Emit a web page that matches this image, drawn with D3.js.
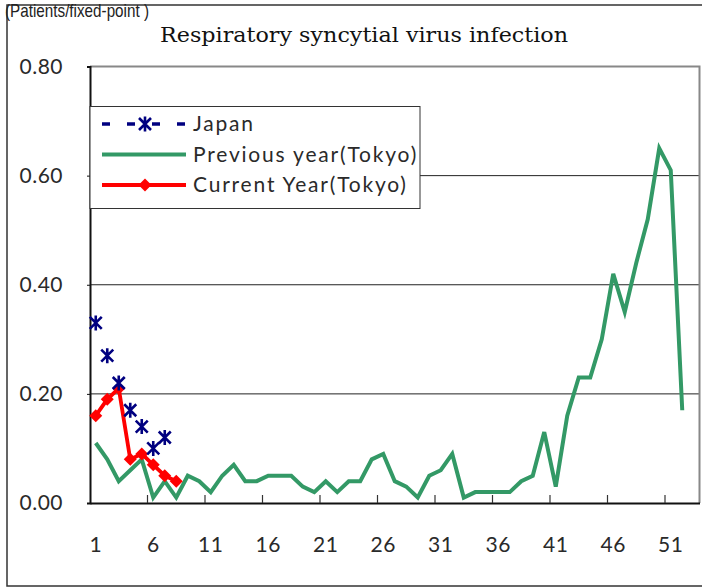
<!DOCTYPE html>
<html>
<head>
<meta charset="utf-8">
<script src="https://cdn.jsdelivr.net/npm/d3@7"></script>
<style>
  html, body { margin: 0; padding: 0; background: #fff; }
  svg { display: block; }
</style>
</head>
<body>
<div id="chart"></div>
<script>
// weekly values (patients per fixed point)
const weeks = d3.range(1, 54);
const xLabels = [1, 6, 11, 16, 21, 26, 31, 36, 41, 46, 51];
const yTicks = [0, 0.2, 0.4, 0.6, 0.8];

const japan = [0.33, 0.27, 0.22, 0.17, 0.14, 0.10, 0.12];
const currentYear = [0.16, 0.19, 0.21, 0.08, 0.09, 0.07, 0.05, 0.04];
const previousYear = [
  0.11, 0.08, 0.04, 0.06, 0.08, 0.01, 0.04, 0.01, 0.05, 0.04,
  0.02, 0.05, 0.07, 0.04, 0.04, 0.05, 0.05, 0.05, 0.03, 0.02,
  0.04, 0.02, 0.04, 0.04, 0.08, 0.09, 0.04, 0.03, 0.01, 0.05,
  0.06, 0.09, 0.01, 0.02, 0.02, 0.02, 0.02, 0.04, 0.05, 0.13,
  0.03, 0.16, 0.23, 0.23, 0.30, 0.42, 0.35, 0.44, 0.52, 0.65,
  0.61, 0.17
];

const width = 702;
const height = 588;
const plot = { left: 90, right: 699.5, top: 66.5, bottom: 503 };

const svg = d3.select("#chart")
  .append("svg")
  .attr("width", width)
  .attr("height", height);

// outer frame
svg.append("rect")
  .attr("x", 7)
  .attr("y", 5)
  .attr("width", 720)
  .attr("height", 581)
  .attr("fill", "none")
  .attr("stroke", "#333")
  .attr("stroke-width", 1.5);

const x = d3.scaleBand()
  .domain(weeks)
  .range([plot.left, plot.right])
  .padding(0);

const y = d3.scaleLinear()
  .domain([0, 0.8])
  .range([plot.bottom, plot.top]);

const cx = d => x(d) + x.bandwidth() / 2;

// gridlines
svg.append("g")
  .selectAll("line")
  .data(yTicks.filter(d => d > 0 && d < 0.8))
  .enter()
  .append("line")
  .attr("x1", plot.left)
  .attr("x2", plot.right)
  .attr("y1", d => y(d))
  .attr("y2", d => y(d))
  .attr("stroke", "#222")
  .attr("stroke-width", 1);

// plot box top / right
svg.append("path")
  .attr("d", `M${plot.left},${plot.top}H${plot.right}V${plot.bottom}`)
  .attr("fill", "none")
  .attr("stroke", "#888")
  .attr("stroke-width", 2);

// y axis
const yAxis = svg.append("g")
  .attr("transform", `translate(${plot.left},0)`)
  .call(d3.axisLeft(y)
    .tickValues(yTicks)
    .tickFormat(d3.format(".2f"))
    .tickSize(3)
    .tickPadding(24));
yAxis.select(".domain").attr("stroke", "#111").attr("stroke-width", 2);
yAxis.selectAll(".tick line").attr("stroke", "#111");
yAxis.selectAll("text")
  .attr("font-family", "Lato, 'DejaVu Sans', sans-serif")
  .attr("font-size", 21)
  .attr("letter-spacing", 0.5)
  .attr("fill", "#2a2a2a");

// x axis: labels centred on weeks, tick marks between categories
const xAxis = svg.append("g")
  .attr("transform", `translate(0,${plot.bottom})`)
  .call(d3.axisBottom(x)
    .tickValues(xLabels)
    .tickSize(0)
    .tickPadding(34));
xAxis.select(".domain").attr("stroke", "#111").attr("stroke-width", 2);
xAxis.selectAll("text")
  .attr("font-family", "Lato, 'DejaVu Sans', sans-serif")
  .attr("font-size", 21)
  .attr("letter-spacing", 0.5)
  .attr("fill", "#2a2a2a");

svg.append("g")
  .selectAll("line")
  .data(xLabels.slice(1))
  .enter()
  .append("line")
  .attr("x1", d => x(d))
  .attr("x2", d => x(d))
  .attr("y1", plot.bottom)
  .attr("y2", plot.bottom - 8)
  .attr("stroke", "#333")
  .attr("stroke-width", 1.2);

// series
const line = d3.line()
  .x((d, i) => cx(weeks[i]))
  .y(d => y(d));

svg.append("path")
  .datum(previousYear)
  .attr("fill", "none")
  .attr("stroke", "#339966")
  .attr("stroke-width", 4)
  .attr("stroke-linejoin", "miter")
  .attr("d", line);

svg.append("path")
  .datum(currentYear)
  .attr("fill", "none")
  .attr("stroke", "#ff0000")
  .attr("stroke-width", 3.8)
  .attr("d", line);

const diamond = "M0,-6.5L6.5,0L0,6.5L-6.5,0Z";
const star = "M-6,-6L6,6M-6,6L6,-6M0,-7.5L0,7.5";

svg.append("g")
  .selectAll("path")
  .data(currentYear)
  .enter()
  .append("path")
  .attr("transform", (d, i) => `translate(${cx(weeks[i])},${y(d)})`)
  .attr("d", diamond)
  .attr("fill", "#ff0000");

svg.append("g")
  .selectAll("path")
  .data(japan)
  .enter()
  .append("path")
  .attr("transform", (d, i) => `translate(${cx(weeks[i])},${y(d)})`)
  .attr("d", star)
  .attr("fill", "none")
  .attr("stroke", "#000080")
  .attr("stroke-width", 2.6);

// legend
const legend = svg.append("g");
legend.append("rect")
  .attr("x", 90)
  .attr("y", 106.5)
  .attr("width", 330)
  .attr("height", 102)
  .attr("fill", "#fff")
  .attr("stroke", "#333")
  .attr("stroke-width", 1);

const legendItems = [
  { name: "Japan", color: "#000080", dash: "8,17", marker: star },
  { name: "Previous year(Tokyo)", color: "#339966", dash: null, marker: null },
  { name: "Current Year(Tokyo)", color: "#ff0000", dash: null, marker: diamond }
];

const item = legend.selectAll(".item")
  .data(legendItems)
  .enter()
  .append("g")
  .attr("class", "item")
  .attr("transform", (d, i) => `translate(0,${124 + i * 30.5})`);

item.append("line")
  .attr("x1", 102)
  .attr("x2", 186)
  .attr("stroke", d => d.color)
  .attr("stroke-width", d => d.dash ? 3.5 : 4)
  .attr("stroke-dasharray", d => d.dash);

item.filter(d => d.marker)
  .append("path")
  .attr("transform", "translate(145,0)")
  .attr("d", d => d.marker)
  .attr("fill", d => d.name === "Japan" ? "none" : d.color)
  .attr("stroke", d => d.name === "Japan" ? d.color : "none")
  .attr("stroke-width", 2.6);

item.append("text")
  .attr("x", 193)
  .attr("dy", "0.35em")
  .attr("font-family", "Lato, 'DejaVu Sans', sans-serif")
  .attr("font-size", 21)
  .attr("letter-spacing", 1.8)
  .attr("fill", "#2a2a2a")
  .text(d => d.name);

// titles
svg.append("text")
  .attr("x", 364)
  .attr("y", 42)
  .attr("text-anchor", "middle")
  .attr("font-family", "'DejaVu Serif', serif")
  .attr("font-size", 21)
  .attr("textLength", 408)
  .attr("lengthAdjust", "spacingAndGlyphs")
  .attr("fill", "#111")
  .text("Respiratory syncytial virus infection");

svg.append("text")
  .attr("x", 5)
  .attr("y", 17)
  .attr("font-family", "'Liberation Sans', sans-serif")
  .attr("font-size", 19)
  .attr("textLength", 144)
  .attr("lengthAdjust", "spacingAndGlyphs")
  .attr("fill", "#222")
  .text("(Patients/fixed-point )");
</script>
</body>
</html>
